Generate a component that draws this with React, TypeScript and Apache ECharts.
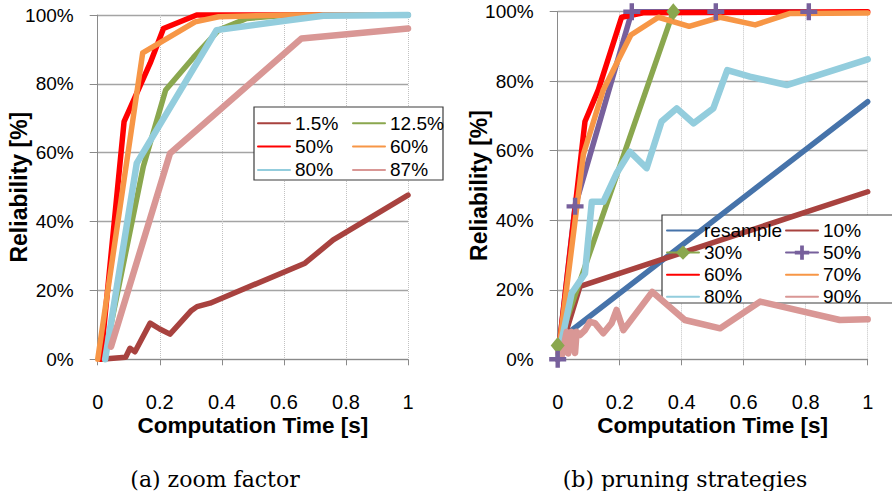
import { useEffect, useRef } from 'react';
import * as echarts from 'echarts';

// ---- (a) zoom factor: [time s, reliability %] ----
const zoom1_5 = [[0.01, 0], [0.09, 0.6], [0.104, 3.2], [0.12, 2.2], [0.169, 10.5], [0.2, 8.8], [0.233, 7.3], [0.3, 14], [0.32, 15.3], [0.362, 16.3], [0.668, 27.9], [0.759, 34.7], [1, 47.7]];
const zoom12_5 = [[0.02, 0], [0.147, 56], [0.219, 78.2], [0.308, 87.6], [0.39, 95.6], [0.48, 99], [0.62, 100], [1, 100]];
const zoom50 = [[0.01, 0], [0.085, 69], [0.126, 77.3], [0.169, 86], [0.212, 96.1], [0.319, 100], [1, 100]];
const zoom60 = [[0, 0], [0.145, 89], [0.314, 98], [0.39, 99.5], [0.62, 100], [1, 100]];
const zoom80 = [[0.024, 0], [0.126, 57], [0.383, 95.6], [0.61, 98.4], [0.727, 99.8], [1, 100]];
const zoom87 = [[0.043, 3.7], [0.233, 59.8], [0.657, 93.2], [1, 96.1]];

// ---- (b) pruning strategies ----
const pruneResample = [[0, 0], [0.04, 8], [1, 74.1]];
const prune10 = [[0, 0], [0.072, 21], [1, 48.2]];
const prune30 = [[0, 4], [0.373, 100]];
const prune50 = [[0, 0], [0.056, 44], [0.239, 100], [0.51, 100], [0.81, 100]];
const prune60 = [[0, 0], [0.088, 68.4], [0.131, 77.5], [0.206, 98.4], [0.276, 99.7], [1, 100]];
const prune70 = [[0, 0], [0.083, 59], [0.147, 77.5], [0.236, 93.3], [0.325, 98.4], [0.424, 95.8], [0.524, 98.4], [0.637, 96.2], [0.75, 99.5], [1, 99.6]];
const prune80 = [[0, 0], [0.045, 19], [0.088, 24.7], [0.11, 45.3], [0.147, 45.3], [0.19, 53.5], [0.233, 59.7], [0.287, 55], [0.335, 68.4], [0.384, 72.2], [0.438, 67.9], [0.502, 72.2], [0.547, 83.2], [0.62, 81.3], [0.739, 78.9], [1, 86.3]];
const prune90 = [[0, 0], [0.013, 1], [0.029, 7.9], [0.034, 1.7], [0.045, 7.9], [0.056, 1.8], [0.061, 7.9], [0.072, 7], [0.088, 8.4], [0.104, 10.8], [0.12, 10.4], [0.147, 7.5], [0.174, 10.4], [0.19, 14.2], [0.212, 8.4], [0.305, 19.4], [0.41, 11.3], [0.524, 8.9], [0.653, 16.6], [0.91, 11.3], [1, 11.5]];

const SANS = '"Liberation Sans", Arial, Helvetica, sans-serif';
const SERIF = '"DejaVu Serif", "Liberation Serif", serif';
const PLUS = 'path://M0,7.4 L20,7.4 L20,12.6 L0,12.6 Z M7.4,0 L12.6,0 L12.6,20 L7.4,20 Z';

type Line = {
  name: string;
  color: string;
  width: number;
  data: number[][];
  symbol?: string;
  symbolSize?: number | number[];
};

type Panel = {
  grid: { left: number; top: number; width: number; height: number };
  lines: Line[];
  legendCols: string[][];
  legendLefts: number[];
  legendTop: number;
  rowH: number;
  rowGap: number;
  box: { x: number; y: number; w: number; h: number };
  caption: string;
  captionX: number;
};

function buildOption(p: Panel) {
  const hasMarker = (name: string) => !!p.lines.find((l) => l.name === name && l.symbol);
  return {
    animation: false,
    grid: { ...p.grid, containLabel: false, outerBoundsMode: 'none' },
    xAxis: {
      type: 'value',
      min: 0,
      max: 1,
      interval: 0.2,
      name: 'Computation Time [s]',
      nameLocation: 'middle',
      nameGap: 55.5,
      nameMoveOverlap: false,
      nameTextStyle: { fontFamily: SANS, fontWeight: 'bold', fontSize: 22.5, lineHeight: 22, color: '#000' },
      axisLine: { show: true, onZero: false, lineStyle: { color: '#8a8a8a', width: 1 } },
      axisTick: { show: true, inside: false, length: 6, lineStyle: { color: '#8a8a8a' } },
      axisLabel: { margin: 35, fontFamily: SANS, fontSize: 20, lineHeight: 16, color: '#000' },
      splitLine: { show: true, lineStyle: { color: '#c2c2c2', type: 'dotted', width: 1 } },
    },
    yAxis: {
      type: 'value',
      min: 0,
      max: 100,
      interval: 20,
      name: 'Reliability [%]',
      nameLocation: 'middle',
      nameRotate: 90,
      nameGap: 67,
      nameMoveOverlap: false,
      nameTextStyle: { fontFamily: SANS, fontWeight: 'bold', fontSize: 23, color: '#000' },
      axisLine: { show: true, onZero: false, lineStyle: { color: '#8a8a8a', width: 1 } },
      axisTick: { show: true, inside: false, length: 8, lineStyle: { color: '#8a8a8a' } },
      axisLabel: { margin: 24, fontFamily: SANS, fontSize: 19, color: '#000', formatter: '{value}%', padding: [6, 0, 0, 0] },
      splitLine: { show: true, lineStyle: { color: '#a4a4a4', width: 1.3 } },
    },
    legend: p.legendCols.map((names, i) => ({
      data: names.map((n) => (hasMarker(n) ? { name: n } : { name: n, itemStyle: { opacity: 0 } })),
      orient: 'vertical',
      left: p.legendLefts[i],
      top: p.legendTop,
      padding: 0,
      itemWidth: 32,
      itemHeight: p.rowH,
      itemGap: p.rowGap,
      selectedMode: false,
      z: 6,
      textStyle: { fontFamily: SANS, fontSize: 19, color: '#000', lineHeight: p.rowH },
    })),
    graphic: [
      {
        type: 'rect',
        z: 3,
        shape: { x: p.box.x, y: p.box.y, width: p.box.w, height: p.box.h },
        style: { fill: '#fff', stroke: '#3c3c3c', lineWidth: 1.2 },
      },
      {
        type: 'text',
        x: p.captionX,
        y: 479,
        style: {
          text: p.caption,
          fontFamily: SERIF,
          fontSize: 22,
          fill: '#000',
          align: 'center',
          verticalAlign: 'middle',
          textAlign: 'center',
          textVerticalAlign: 'middle',
        },
      },
    ],
    series: p.lines.map((l) => ({
      type: 'line',
      name: l.name,
      data: l.data,
      clip: false,
      symbol: l.symbol || 'none',
      symbolSize: l.symbolSize || 0,
      showSymbol: !!l.symbol,
      color: l.color,
      itemStyle: { color: l.color },
      lineStyle: { color: l.color, width: l.width, cap: 'round', join: 'round' },
      emphasis: { disabled: true },
    })),
  };
}

const panelA: Panel = {
  grid: { left: 97.7, top: 15, width: 310.3, height: 344.3 },
  lines: [
    { name: '1.5%', color: '#A8423F', width: 5.5, data: zoom1_5 },
    { name: '12.5%', color: '#8AA74E', width: 5.5, data: zoom12_5 },
    { name: '50%', color: '#FF0000', width: 5.5, data: zoom50 },
    { name: '60%', color: '#F79646', width: 5.5, data: zoom60 },
    { name: '80%', color: '#93CDDD', width: 6.5, data: zoom80 },
    { name: '87%', color: '#D99795', width: 6.5, data: zoom87 },
  ],
  legendCols: [['1.5%', '50%', '80%'], ['12.5%', '60%', '87%']],
  legendLefts: [257, 352],
  legendTop: 113.3,
  rowH: 20,
  rowGap: 3.3,
  box: { x: 254, y: 107, w: 189, h: 73 },
  caption: '(a) zoom factor',
  captionX: 215,
};

const panelB: Panel = {
  grid: { left: 111.7, top: 11.7, width: 310, height: 347.6 },
  lines: [
    { name: 'resample', color: '#4673AA', width: 5.5, data: pruneResample },
    { name: '10%', color: '#A8423F', width: 5.5, data: prune10 },
    { name: '30%', color: '#8AA74E', width: 5.5, data: prune30, symbol: 'diamond', symbolSize: [14, 17] },
    { name: '50%', color: '#77609C', width: 5.5, data: prune50, symbol: PLUS, symbolSize: 17 },
    { name: '60%', color: '#FF0000', width: 5.5, data: prune60 },
    { name: '70%', color: '#F79646', width: 5.5, data: prune70 },
    { name: '80%', color: '#93CDDD', width: 6.5, data: prune80 },
    { name: '90%', color: '#D99795', width: 6.5, data: prune90 },
  ],
  legendCols: [['resample', '30%', '60%', '80%'], ['10%', '50%', '70%', '90%']],
  legendLefts: [220, 339],
  legendTop: 221,
  rowH: 18,
  rowGap: 3.1,
  box: { x: 216, y: 215, w: 240, h: 88 },
  caption: '(b) pruning strategies',
  captionX: 239,
};

function ChartPanel({ panel, left }: { panel: Panel; left: number }) {
  const ref = useRef<HTMLDivElement>(null);
  useEffect(() => {
    if (!ref.current) return;
    const chart = echarts.init(ref.current, undefined, { renderer: 'svg' });
    chart.setOption(buildOption(panel));
    return () => chart.dispose();
  }, [panel]);
  return (
    <div
      ref={ref}
      style={{ position: 'absolute', left, top: 0, width: 446, height: 491 }}
    />
  );
}

export default function App() {
  return (
    <div style={{ position: 'fixed', left: 0, top: 0, width: 892, height: 491, background: '#fff', overflow: 'hidden' }}>
      <ChartPanel panel={panelA} left={0} />
      <ChartPanel panel={panelB} left={446} />
    </div>
  );
}
